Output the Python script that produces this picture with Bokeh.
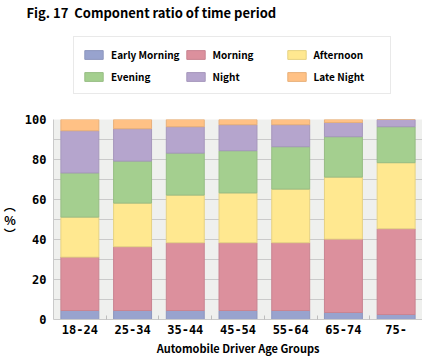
from bokeh.plotting import figure
from bokeh.layouts import column
from bokeh.models import (ColumnDataSource, Range1d, FixedTicker, Legend, LegendItem)
from bokeh.embed import file_html
from bokeh.resources import INLINE

groups = ["18-24", "25-34", "35-44", "45-54", "55-64", "65-74", "75-"]
periods = ["Early Morning", "Morning", "Afternoon", "Evening", "Night", "Late Night"]
early_morning = [4.5, 4.5, 4.5, 4.5, 4.5, 3.5, 2.5]
morning = [26.7, 31.9, 33.9, 33.9, 33.9, 36.7, 42.9]
afternoon = [20.0, 21.8, 23.8, 24.9, 26.8, 31.0, 33.0]
evening = [22.1, 21.0, 21.0, 21.1, 21.2, 20.2, 18.0]
night = [21.1, 16.2, 13.2, 13.0, 11.0, 7.1, 3.6]
late_night = [5.6, 4.6, 3.6, 2.6, 2.6, 1.5, 0.0]
y_ticks = [0, 20, 40, 60, 80, 100]

colors = ["#98A3CE", "#DC909D", "#FFE890", "#A4CF8F", "#B5A5CD", "#FFC185"]
edges = ["#8E97BE", "#C98491", "#E6D283", "#97BD84", "#A697BC", "#E8B07A"]

idx = list(range(len(groups)))
keys = ["em", "mo", "af", "ev", "ni", "ln"]
source = ColumnDataSource(dict(x=idx, em=early_morning, mo=morning, af=afternoon,
                               ev=evening, ni=night, ln=late_night))

SANS = "'Noto Sans CJK JP', sans-serif"
MONO = "'DejaVu Sans Mono', monospace"

# ---------- header: title + legend ----------
head = figure(width=422, height=113, output_backend="svg", toolbar_location=None,
              x_range=Range1d(-0.5, len(groups) - 0.5), y_range=Range1d(0, 100),
              x_axis_type=None, y_axis_type=None,
              min_border_left=44, min_border_right=0, min_border_top=0, min_border_bottom=0,
              outline_line_color=None, background_fill_color="white")
head.grid.visible = False
head.title.text = "Fig. 17 \u00a0Component ratio of time period"
head.title.text_font = SANS
head.title.text_font_size = "13px"
head.title.text_font_style = "bold"
head.title.text_color = "black"
head.title.align = "left"
head.title.offset = -27
head.title.standoff = 0

# legend-only renderers: muted (fully transparent) so they only supply the swatches
legend_renderers = head.vbar_stack(keys, x="x", width=0.72, source=source,
                                   fill_color=colors, line_color=edges, line_width=1,
                                   muted_fill_alpha=0, muted_line_alpha=0)
for r in legend_renderers:
    r.muted = True

legend = Legend(items=[LegendItem(label=lab, renderers=[r])
                       for lab, r in zip(periods, legend_renderers)],
                location=(20, 19), orientation="horizontal", ncols=3,
                glyph_width=23, glyph_height=11, label_standoff=6, label_width=68,
                label_height=18, spacing=4, padding=8, margin=0, click_policy="none",
                border_line_color="#D4D4D4", border_line_width=1,
                background_fill_color="white", background_fill_alpha=1,
                label_text_font=SANS, label_text_font_size="10px",
                label_text_font_style="bold", label_text_color="black")
head.add_layout(legend, "center")

# ---------- main chart ----------
p = figure(width=422, height=247, output_backend="svg", toolbar_location=None,
           x_range=Range1d(-0.5, len(groups) - 0.5), y_range=Range1d(0, 100),
           min_border_left=44, min_border_right=0, min_border_top=6, min_border_bottom=41,
           background_fill_color="#EFF0EE", outline_line_color=None)

p.vbar_stack(keys, x="x", width=0.72, source=source,
             fill_color=colors, line_color=edges, line_width=1)

p.xgrid.grid_line_color = None
p.ygrid.ticker = FixedTicker(ticks=list(range(0, 101, 10)))
p.ygrid.grid_line_color = "#CACACA"
p.ygrid.level = "underlay"

p.xaxis.ticker = FixedTicker(ticks=idx, minor_ticks=[i + 0.5 for i in idx[:-1]])
p.xaxis.major_label_overrides = {i: g for i, g in zip(idx, groups)}
p.xaxis.major_tick_line_color = None
p.xaxis.major_tick_in = 0
p.xaxis.major_tick_out = 0
p.xaxis.minor_tick_in = 4
p.xaxis.minor_tick_out = 0
p.xaxis.minor_tick_line_color = "#BDBDBD"
p.xaxis.axis_line_color = "#CACACA"
p.xaxis.major_label_text_font = MONO
p.xaxis.major_label_text_font_size = "12px"
p.xaxis.major_label_text_font_style = "bold"
p.xaxis.major_label_text_color = "black"
p.xaxis.major_label_standoff = 5
p.xaxis.axis_label = "Automobile Driver Age Groups"
p.xaxis.axis_label_text_font = SANS
p.xaxis.axis_label_text_font_size = "11px"
p.xaxis.axis_label_text_font_style = "bold"
p.xaxis.axis_label_text_color = "black"
p.xaxis.axis_label_standoff = 3

p.yaxis.ticker = FixedTicker(ticks=y_ticks)
p.yaxis.major_tick_line_color = None
p.yaxis.major_tick_in = 0
p.yaxis.major_tick_out = 0
p.yaxis.minor_tick_line_color = None
p.yaxis.minor_tick_in = 0
p.yaxis.minor_tick_out = 0
p.yaxis.axis_line_color = "#CACACA"
p.yaxis.major_label_text_font = MONO
p.yaxis.major_label_text_font_size = "12px"
p.yaxis.major_label_text_font_style = "bold"
p.yaxis.major_label_text_color = "black"
p.yaxis.major_label_standoff = 7
p.yaxis.axis_label = "\ufe35\n%\n\ufe36"
p.yaxis.axis_label_orientation = "horizontal"
p.yaxis.axis_label_text_font = "'Noto Sans CJK JP'"
p.yaxis.axis_label_text_font_size = "12px"
p.yaxis.axis_label_text_font_style = "bold"
p.yaxis.axis_label_text_line_height = 0.8
p.yaxis.axis_label_text_color = "black"
p.yaxis.axis_label_standoff = 6

layout = column(head, p, spacing=0)
open("out.html", "w").write(file_html(layout, INLINE))
